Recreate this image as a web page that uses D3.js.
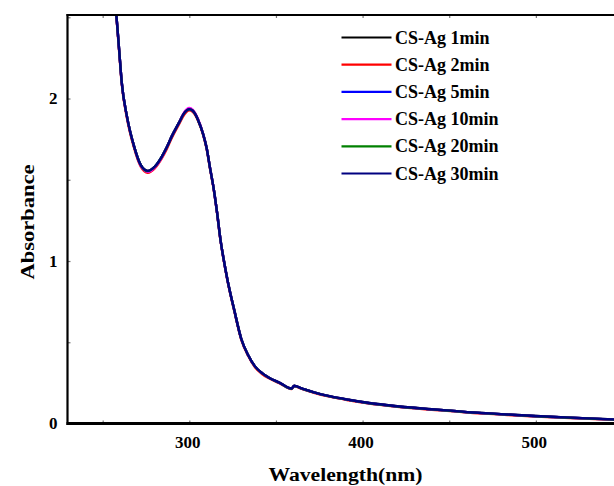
<!DOCTYPE html>
<html>
<head>
<meta charset="utf-8">
<script src="https://cdn.jsdelivr.net/npm/d3@7"></script>
<style>
  html, body { margin: 0; padding: 0; background: #fff; }
  svg { display: block; }
  text { font-family: "Times New Roman", "Liberation Serif", serif; font-weight: bold; fill: #000; }
</style>
</head>
<body>
<div id="chart"></div>
<script>
// ---------- data ----------
const wavelengths = [255, 258, 259.5, 261, 264, 268, 272, 276, 280, 284, 287, 290, 294, 297, 300, 302, 305, 308, 310, 312, 314, 316, 318, 320, 322, 326, 330, 334, 338, 342, 346, 352, 359, 360.5, 365, 372, 381, 392, 402, 420, 440, 464, 480, 500, 520, 550];

const seriesNames = ['CS-Ag 1min', 'CS-Ag 2min', 'CS-Ag 5min', 'CS-Ag 10min', 'CS-Ag 20min', 'CS-Ag 30min'];
const seriesColors = ['#000000', '#ff0000', '#0000ff', '#ff00ff', '#008000', '#000080'];

const abs1min  = [2.76, 2.50, 2.30, 2.10, 1.89, 1.71, 1.59, 1.555, 1.58, 1.64, 1.70, 1.77, 1.85, 1.91, 1.935, 1.925, 1.87, 1.78, 1.695, 1.57, 1.45, 1.30, 1.13, 1.00, 0.885, 0.695, 0.52, 0.42, 0.35, 0.31, 0.282, 0.252, 0.215, 0.232, 0.216, 0.192, 0.168, 0.146, 0.129, 0.106, 0.088, 0.068, 0.058, 0.046, 0.036, 0.023];
const abs2min  = [2.74, 2.49, 2.29, 2.09, 1.88, 1.70, 1.58, 1.543, 1.57, 1.63, 1.69, 1.76, 1.84, 1.90, 1.928, 1.918, 1.865, 1.775, 1.69, 1.565, 1.445, 1.295, 1.125, 0.995, 0.88, 0.69, 0.515, 0.415, 0.345, 0.305, 0.278, 0.248, 0.212, 0.229, 0.213, 0.189, 0.165, 0.143, 0.126, 0.103, 0.085, 0.065, 0.055, 0.043, 0.033, 0.020];
const abs5min  = [2.75, 2.50, 2.30, 2.10, 1.89, 1.71, 1.59, 1.552, 1.58, 1.64, 1.70, 1.77, 1.85, 1.91, 1.934, 1.924, 1.87, 1.78, 1.695, 1.57, 1.45, 1.30, 1.13, 1.00, 0.885, 0.695, 0.52, 0.42, 0.35, 0.31, 0.281, 0.251, 0.214, 0.231, 0.215, 0.191, 0.167, 0.145, 0.128, 0.105, 0.087, 0.067, 0.057, 0.045, 0.035, 0.022];
const abs10min = [2.75, 2.50, 2.30, 2.10, 1.89, 1.71, 1.585, 1.549, 1.575, 1.635, 1.70, 1.77, 1.85, 1.915, 1.942, 1.93, 1.875, 1.782, 1.697, 1.572, 1.45, 1.30, 1.13, 1.00, 0.885, 0.695, 0.52, 0.42, 0.35, 0.31, 0.281, 0.251, 0.214, 0.231, 0.215, 0.191, 0.167, 0.145, 0.128, 0.105, 0.087, 0.067, 0.057, 0.045, 0.035, 0.022];
const abs20min = [2.75, 2.50, 2.30, 2.10, 1.89, 1.71, 1.59, 1.553, 1.58, 1.64, 1.70, 1.77, 1.85, 1.91, 1.935, 1.925, 1.87, 1.78, 1.695, 1.57, 1.45, 1.30, 1.13, 1.00, 0.885, 0.695, 0.52, 0.42, 0.35, 0.31, 0.281, 0.251, 0.214, 0.231, 0.215, 0.191, 0.167, 0.145, 0.128, 0.105, 0.087, 0.067, 0.057, 0.045, 0.035, 0.022];
const abs30min = [2.75, 2.50, 2.30, 2.10, 1.89, 1.71, 1.59, 1.555, 1.58, 1.64, 1.70, 1.77, 1.85, 1.91, 1.935, 1.925, 1.87, 1.78, 1.695, 1.57, 1.45, 1.30, 1.13, 1.00, 0.885, 0.695, 0.52, 0.42, 0.35, 0.31, 0.282, 0.252, 0.215, 0.232, 0.216, 0.192, 0.168, 0.146, 0.129, 0.106, 0.088, 0.068, 0.058, 0.046, 0.036, 0.023];

const seriesValues = [abs1min, abs2min, abs5min, abs10min, abs20min, abs30min];

const xTickValues = [250, 300, 350, 400, 450, 500, 550];
const xTickLabels = [300, 400, 500];
const yTickValues = [0, 0.5, 1, 1.5, 2, 2.5];
const yTickLabels = [0, 1, 2];

// ---------- layout ----------
const W = 614, H = 486;
const plot = { left: 67.5, right: 622.5, top: 15, bottom: 423.5 };

const x = d3.scaleLinear().domain([229.7, 550]).range([plot.left, plot.right]);
const y = d3.scaleLinear().domain([0, 2.514]).range([plot.bottom, plot.top]);

const svg = d3.select('#chart').append('svg')
  .attr('width', W)
  .attr('height', H)
  .attr('viewBox', `0 0 ${W} ${H}`);

svg.append('defs').append('clipPath').attr('id', 'plotClip')
  .append('rect')
  .attr('x', plot.left).attr('y', plot.top)
  .attr('width', plot.right - plot.left).attr('height', plot.bottom - plot.top);

// curves
const line = d3.line()
  .x(d => x(d[0]))
  .y(d => y(d[1]))
  .curve(d3.curveMonotoneX);

const curves = svg.append('g').attr('clip-path', 'url(#plotClip)');
seriesValues.forEach((vals, i) => {
  curves.append('path')
    .datum(wavelengths.map((w, k) => [w, vals[k]]))
    .attr('fill', 'none')
    .attr('stroke', seriesColors[i])
    .attr('stroke-width', 2.4)
    .attr('stroke-linejoin', 'round')
    .attr('d', line);
});

// axes (inward ticks, labels drawn separately)
const tickColor = '#777';
const bottomAxis = svg.append('g').attr('transform', `translate(0,${plot.bottom})`)
  .call(d3.axisBottom(x).tickValues(xTickValues).tickSize(-3).tickFormat(''));
const topAxis = svg.append('g').attr('transform', `translate(0,${plot.top})`)
  .call(d3.axisTop(x).tickValues(xTickValues).tickSize(-3).tickFormat(''));
const leftAxis = svg.append('g').attr('transform', `translate(${plot.left},0)`)
  .call(d3.axisLeft(y).tickValues(yTickValues).tickSize(-3).tickFormat(''));
[bottomAxis, topAxis, leftAxis].forEach(a => {
  a.select('.domain').remove();
  a.selectAll('.tick line').attr('stroke', tickColor).attr('stroke-width', 1.2);
});

// frame
svg.append('line').attr('x1', plot.left - 1).attr('x2', W + 10)
  .attr('y1', plot.bottom).attr('y2', plot.bottom)
  .attr('stroke', '#000').attr('stroke-width', 3);
svg.append('line').attr('x1', plot.left - 1).attr('x2', W + 10)
  .attr('y1', plot.top).attr('y2', plot.top)
  .attr('stroke', '#000').attr('stroke-width', 2.2);
svg.append('line').attr('x1', plot.left).attr('x2', plot.left)
  .attr('y1', plot.top - 1).attr('y2', plot.bottom + 1.5)
  .attr('stroke', '#000').attr('stroke-width', 2.2);

// tick labels
svg.append('g').selectAll('text').data(xTickLabels).join('text')
  .attr('x', d => x(d) - 1.5)
  .attr('y', 448)
  .attr('text-anchor', 'middle')
  .attr('font-size', 17)
  .text(d => d);

svg.append('g').selectAll('text').data(yTickLabels).join('text')
  .attr('x', 57.5)
  .attr('y', d => y(d) + 5.5)
  .attr('text-anchor', 'end')
  .attr('font-size', 17)
  .text(d => d);

// axis titles
svg.append('text')
  .attr('x', 345.5)
  .attr('y', 480.5)
  .attr('text-anchor', 'middle')
  .attr('font-size', 18.5)
  .attr('textLength', 154)
  .attr('lengthAdjust', 'spacingAndGlyphs')
  .text('Wavelength(nm)');

svg.append('text')
  .attr('transform', 'translate(33.5,222) rotate(-90)')
  .attr('text-anchor', 'middle')
  .attr('font-size', 19)
  .attr('textLength', 115)
  .attr('lengthAdjust', 'spacingAndGlyphs')
  .text('Absorbance');

// legend
const legend = svg.append('g');
const legY0 = 37.5, legDy = 27.2;
seriesNames.forEach((name, i) => {
  const yy = legY0 + i * legDy;
  legend.append('line')
    .attr('x1', 341.5).attr('x2', 391.5)
    .attr('y1', yy).attr('y2', yy)
    .attr('stroke', seriesColors[i])
    .attr('stroke-width', 2.2);
  legend.append('text')
    .attr('x', 395)
    .attr('y', yy + 6)
    .attr('font-size', 18)
    .text(name);
});
</script>
</body>
</html>
